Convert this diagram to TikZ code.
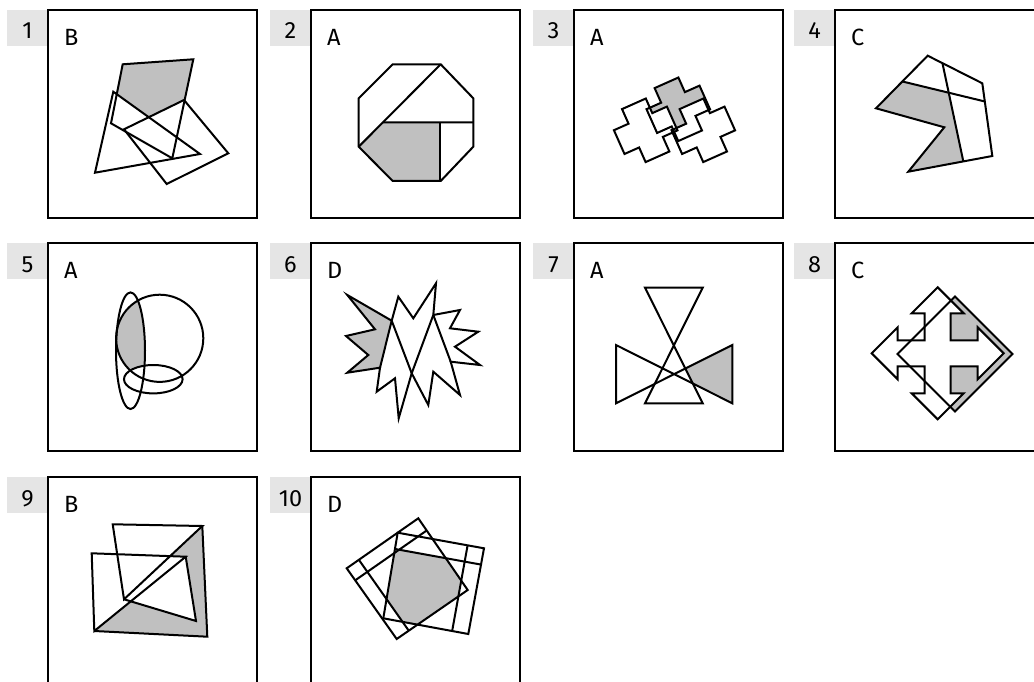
\documentclass[tikz,border=0pt]{standalone}
\usepackage{fontspec}
\setmainfont{Fira Sans}
\usetikzlibrary{calc}
\definecolor{labelgray}{RGB}{229,229,229}
\definecolor{shade}{RGB}{192,192,192}
\tikzset{
  fig/.style={draw=black, line width=2pt, line join=miter},
  shaded/.style={fill=shade},
  blank/.style={fill=white},
  panelbox/.style={draw=black, line width=1.8pt},
  labelbg/.style={fill=labelgray},
  numtxt/.style={font=\fontsize{23.5}{23.5}\selectfont, anchor=base, inner sep=0pt},
  lettxt/.style={font=\fontsize{23.5}{23.5}\selectfont, anchor=base west, inner sep=0pt},
}
\newcommand{\panelframe}[4]{%
  \fill[labelbg] ({#1-41},#2) rectangle (#1,{#2+36});
  \draw[panelbox] (#1,#2) rectangle ({#1+209},{#2+208});
  \node[numtxt] (num#3) at ({#1-20.5},{#2+29}) {#3};
  \node[lettxt] (let#3) at ({#1+16},{#2+35.5}) {#4};
}
\newcommand{\crossat}[2]{%
  \begin{scope}[shift={#1},rotate=24]
    \path[#2] (-13,-29) -- (13,-29) -- (13,-13) -- (29,-13) -- (29,13) -- (13,13) -- (13,29) -- (-13,29) -- (-13,13) -- (-29,13) -- (-29,-13) -- (-13,-13) -- cycle;
  \end{scope}}
\newcommand{\arrowdiamondat}[2]{%
  \begin{scope}[shift={#1}]
    \path[#2] (0,-66) -- (26,-40) -- (13,-40) -- (13,-13) -- (40,-13) -- (40,-26) -- (66,0) -- (40,26) -- (40,13) -- (13,13) -- (13,40) -- (26,40) -- (0,66) -- (-26,40) -- (-13,40) -- (-13,13) -- (-40,13) -- (-40,26) -- (-66,0) -- (-40,-26) -- (-40,-13) -- (-13,-13) -- (-13,-40) -- (-26,-40) -- cycle;
  \end{scope}}
\begin{document}
\begin{tikzpicture}[x=1pt,y=-1pt]
\clip (0,0) rectangle (1034,682);
\fill[white] (0,0) rectangle (1034,682);

% frames
\panelframe{48}{10}{1}{B}
\panelframe{311}{10}{2}{A}
\panelframe{574}{10}{3}{A}
\panelframe{835}{10}{4}{C}
\panelframe{48}{243}{5}{A}
\panelframe{311}{243}{6}{D}
\panelframe{574}{243}{7}{A}
\panelframe{835}{243}{8}{C}
\panelframe{48}{477}{9}{B}
\panelframe{311}{477}{10}{D}

% ---------- panel 1
\coordinate (q1a) at (122.7,64.3);
\coordinate (q1b) at (193.3,59.3);
\coordinate (q1c) at (172.3,158.3);
\coordinate (q1d) at (111,123.3);
\coordinate (t1a) at (113.3,91.7);
\coordinate (t1b) at (200,154);
\coordinate (t1c) at (95,172.7);
\coordinate (r1a) at (124,129.3);
\coordinate (r1b) at (184,100);
\coordinate (r1c) at (228.3,153.3);
\coordinate (r1d) at (166.7,184);
\fill[shaded] (q1a) -- (q1b) -- (q1c) -- (q1d) -- cycle;
\fill[blank] (t1a) -- (t1b) -- (t1c) -- cycle;
\fill[blank] (r1a) -- (r1b) -- (r1c) -- (r1d) -- cycle;
\draw[fig] (q1a) -- (q1b) -- (q1c) -- (q1d) -- cycle;
\draw[fig] (t1a) -- (t1b) -- (t1c) -- cycle;
\draw[fig] (r1a) -- (r1b) -- (r1c) -- (r1d) -- cycle;

% ---------- panel 2
\coordinate (o1) at (392.7,64.3);
\coordinate (o2) at (440.7,64.3);
\coordinate (o3) at (473.3,98.3);
\coordinate (o4) at (473.3,146.7);
\coordinate (o5) at (440.7,181);
\coordinate (o6) at (392.7,181);
\coordinate (o7) at (358.7,146.7);
\coordinate (o8) at (358.7,98.3);
\coordinate (h2r) at (473.3,122.3);
\coordinate (h2m) at (400,122.3);
\coordinate (h2l) at (intersection of o2--o7 and h2r--h2m);
\coordinate (v2t) at (439.5,122.3);
\coordinate (v2b) at (439.5,181);
\fill[shaded] (h2l) -- (v2t) -- (v2b) -- (o6) -- (o7) -- cycle;
\draw[fig] (o1) -- (o2) -- (o3) -- (o4) -- (o5) -- (o6) -- (o7) -- (o8) -- cycle;
\draw[fig] (o2) -- (o7);
\draw[fig] (h2l) -- (h2r);
\draw[fig] (v2t) -- (v2b);

% ---------- panel 3
\crossat{(678.3,109.3)}{shaded}
\crossat{(645.7,130.3)}{blank}
\crossat{(703.3,130.3)}{blank}
\crossat{(645.7,130.3)}{fig}
\crossat{(678.3,109.3)}{fig}
\crossat{(703.3,130.3)}{fig}

% ---------- panel 4
\coordinate (p4a) at (927.7,55.7);
\coordinate (p4b) at (982.3,83.3);
\coordinate (p4c) at (992.3,156);
\coordinate (p4d) at (908.3,171.7);
\coordinate (p4e) at (944.3,127.3);
\coordinate (p4f) at (876,108.3);
\coordinate (h4a) at ($(p4f)!0.51!(p4a)$);
\coordinate (h4b) at ($(p4b)!0.25!(p4c)$);
\coordinate (v4a) at ($(p4a)!0.27!(p4b)$);
\coordinate (v4b) at ($(p4c)!0.345!(p4d)$);
\coordinate (x4) at (intersection of h4a--h4b and v4a--v4b);
\fill[shaded] (h4a) -- (x4) -- (v4b) -- (p4d) -- (p4e) -- (p4f) -- cycle;
\draw[fig] (p4a) -- (p4b) -- (p4c) -- (p4d) -- (p4e) -- (p4f) -- cycle;
\draw[fig] (h4a) -- (h4b);
\draw[fig] (v4a) -- (v4b);

% ---------- panel 5
\begin{scope}
  \clip (159.7,338.3) circle (43.6pt);
  \fill[shaded] (130.5,350.7) ellipse (14.5pt and 58.3pt);
\end{scope}
\fill[blank] (153.3,379.2) ellipse (29.3pt and 14.2pt);
\draw[fig] (159.7,338.3) circle (43.6pt);
\draw[fig] (130.5,350.7) ellipse (14.5pt and 58.3pt);
\draw[fig] (153.3,379.2) ellipse (29.3pt and 14.2pt);

% ---------- panel 6
\coordinate (s6a) at (391.7,320.7);
\coordinate (s6b) at (433.3,315);
\coordinate (s6c) at (411.7,373.3);
\coordinate (s6d) at (380,367.7);
\coordinate (s6e) at (450.7,361.7);
\fill[shaded] (347.3,295) -- (s6a) -- (s6d) -- (347.3,372.7) -- (368.3,355) -- (346,336) -- (375,329.3) -- cycle;
\draw[fig] (347.3,295) -- (s6a) -- (398.3,296.7) -- (413.3,318.3) -- (436,283.3) -- (s6b) -- (460,310) -- (450,328.3) -- (478.3,331.7) -- (455,346.7) -- (480,365) -- (s6e) -- (460,395) -- (433.3,371.7) -- (428.3,405) -- (s6c) -- (398.7,418.3) -- (395,378.3) -- (376.7,391.7) -- (s6d) -- (347.3,372.7) -- (368.3,355) -- (346,336) -- (375,329.3) -- cycle;
\draw[fig] (s6a) -- (s6d);
\draw[fig] (s6a) -- (s6c);
\draw[fig] (s6b) -- (s6c);
\draw[fig] (s6b) -- (s6e);

% ---------- panel 7
\coordinate (g7a) at (645,287.7);
\coordinate (g7b) at (702.7,287.7);
\coordinate (g7c) at (645,403.3);
\coordinate (g7d) at (702.7,403.3);
\coordinate (b7a) at (616,345);
\coordinate (b7b) at (616,403.3);
\coordinate (b7c) at (732.3,345);
\coordinate (b7d) at (732.3,403.3);
\coordinate (p7a) at (intersection of b7a--b7d and g7a--g7d);
\coordinate (p7b) at (intersection of b7b--b7c and g7a--g7d);
\fill[shaded] (b7c) -- (b7d) -- (p7a) -- (p7b) -- cycle;
\draw[fig] (g7a) -- (g7b) -- (g7c) -- (g7d) -- cycle;
\draw[fig] (b7a) -- (b7d) -- (b7c) -- (b7b) -- cycle;

% ---------- panel 8
\coordinate (d8t) at (955,296.5);
\coordinate (d8r) at (1012.5,354);
\coordinate (d8b) at (955,411.5);
\coordinate (d8l) at (897.5,354);
\begin{scope}
  \clip (d8t) -- (d8r) -- (d8b) -- (d8l) -- cycle;
  \fill[shaded] (937.7,280) rectangle (1034,430);
\end{scope}
\arrowdiamondat{(937.7,353.3)}{blank}
\draw[fig] (d8t) -- (d8r) -- (d8b) -- (d8l) -- cycle;
\arrowdiamondat{(937.7,353.3)}{fig}

% ---------- panel 9
\coordinate (u9a) at (112.7,524.3);
\coordinate (u9b) at (202.3,526);
\coordinate (u9c) at (124,599.3);
\coordinate (l9a) at (91.7,553.3);
\coordinate (l9b) at (185.7,556.7);
\coordinate (l9c) at (94.3,631);
\coordinate (w9) at (196,621);
\coordinate (g9) at (207.3,636.7);
\coordinate (i9a) at (intersection of l9c--l9b and u9c--w9);
\coordinate (i9b) at (intersection of u9c--u9b and l9a--l9b);
\fill[shaded] (l9c) -- (i9a) -- (w9) -- (l9b) -- (i9b) -- (u9b) -- (g9) -- cycle;
\draw[fig] (u9a) -- (u9b) -- (u9c) -- cycle;
\draw[fig] (l9a) -- (l9b) -- (l9c) -- cycle;
\draw[fig] (l9b) -- (w9) -- (u9c);
\draw[fig] (u9b) -- (g9) -- (l9c);

% ---------- panel 10
\coordinate (sL) at (346.7,568.3);
\coordinate (sT) at (418.3,518.3);
\coordinate (sR) at (467.7,590);
\coordinate (sB) at (396.7,639);
\coordinate (a1) at ($(sL)!0.17!(sB)$);
\coordinate (a2) at ($(sT)!0.17!(sR)$);
\coordinate (b1) at ($(sL)!0.17!(sT)$);
\coordinate (b2) at ($(sB)!0.17!(sR)$);
\coordinate (ci) at ($(a1)!0.17!(a2)$);
\coordinate (tTL) at (397.7,532.7);
\coordinate (tTR) at (484,548.3);
\coordinate (tBR) at (468.3,634);
\coordinate (tBL) at (383.3,618.3);
\coordinate (e1) at ($(tTL)!0.19!(tBL)$);
\coordinate (e2) at ($(tTR)!0.19!(tBR)$);
\coordinate (f1) at ($(tTL)!0.81!(tTR)$);
\coordinate (f2) at ($(tBL)!0.81!(tBR)$);
\coordinate (ei) at ($(e1)!0.81!(e2)$);
\begin{scope}
  \clip (ci) -- (a2) -- (sR) -- (b2) -- cycle;
  \clip (e1) -- (ei) -- (f2) -- (tBL) -- cycle;
  \fill[shaded] (330,500) rectangle (500,660);
\end{scope}
\draw[fig] (sL) -- (sT) -- (sR) -- (sB) -- cycle;
\draw[fig] (a1) -- (a2);
\draw[fig] (b1) -- (b2);
\draw[fig] (tTL) -- (tTR) -- (tBR) -- (tBL) -- cycle;
\draw[fig] (e1) -- (e2);
\draw[fig] (f1) -- (f2);
\end{tikzpicture}
\end{document}
